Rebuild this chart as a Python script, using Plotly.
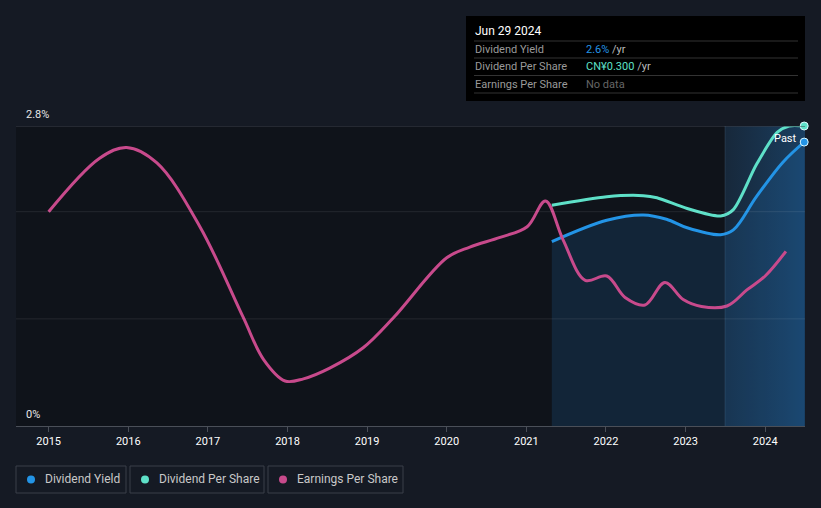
import plotly.graph_objects as go

# ---- data (y in axis units, % scale) ----
eps_x = [2015.0, 2015.64, 2015.98, 2016.36, 2016.9,
         2017.44, 2017.7, 2017.97, 2018.2, 2018.53, 2018.95, 2019.33, 2020.0, 2020.29,
         2020.67, 2021.01, 2021.24, 2021.46, 2021.74, 2022.01, 2022.24, 2022.49, 2022.74, 2022.97,
         2023.2, 2023.52, 2023.77, 2024.0, 2024.26]
eps_y = [2.00, 2.50, 2.60, 2.455, 1.86,
         1.02, 0.62, 0.42, 0.44, 0.54, 0.73, 1.01, 1.57, 1.67,
         1.76, 1.86, 2.10, 1.74, 1.36, 1.40, 1.20, 1.13, 1.34, 1.18,
         1.115, 1.12, 1.27, 1.40, 1.63]

dy_x = [2021.32, 2022.01, 2022.47, 2022.76, 2023.02, 2023.44, 2023.6, 2023.89, 2024.22, 2024.49]
dy_y = [1.72, 1.92, 1.97, 1.93, 1.85, 1.785, 1.83, 2.14, 2.46, 2.65]

dps_x = [2021.32, 2022.01, 2022.47, 2022.64, 2023.02, 2023.44, 2023.6, 2023.89, 2024.15, 2024.3, 2024.49]
dps_y = [2.06, 2.14, 2.15, 2.13, 2.03, 1.96, 2.02, 2.44, 2.74, 2.8, 2.8]

years = [2015, 2016, 2017, 2018, 2019, 2020, 2021, 2022, 2023, 2024]
year_labels = [str(y) for y in years]
y_max = 2.8
grid_vals = [1.0, 2.0]
past_start = 2023.495
x_min, x_max = 2014.59, 2024.5

BLUE = "#2394e6"
TEAL = "#5ee0c8"
PINK = "#c84a8c"

W, H = 821, 508
ML, MR, MT, MB = 16, 16, 126, 82
PW, PH = W - ML - MR, H - MT - MB


def px(x):
    return (x - ML) / PW


def py(y):
    return (H - MB - y) / PH


fig = go.Figure()

# past region gradient
fig.add_trace(go.Scatter(
    x=[past_start, x_max, x_max, past_start, past_start],
    y=[0, 0, y_max, y_max, 0],
    mode="lines", line=dict(width=0), fill="toself",
    fillgradient=dict(type="horizontal",
                      colorscale=[[0, "rgba(30,90,140,0.22)"], [1, "rgba(30,100,160,0.5)"]]),
    hoverinfo="skip", showlegend=False))

fig.add_trace(go.Scatter(
    x=dy_x, y=dy_y, mode="lines", line=dict(color=BLUE, width=3, shape="spline", smoothing=1.0),
    fill="tozeroy", fillcolor="rgba(30,110,180,0.20)", hoverinfo="skip", showlegend=False))

fig.add_trace(go.Scatter(
    x=dps_x, y=dps_y, mode="lines", line=dict(color=TEAL, width=3, shape="spline", smoothing=0.8),
    hoverinfo="skip", showlegend=False))

fig.add_trace(go.Scatter(
    x=eps_x, y=eps_y, mode="lines", line=dict(color=PINK, width=3, shape="spline", smoothing=1.0),
    hoverinfo="skip", showlegend=False))

fig.add_trace(go.Scatter(
    x=[dy_x[-1], dps_x[-1]], y=[dy_y[-1], dps_y[-1]], mode="markers",
    marker=dict(size=8, color=[BLUE, TEAL], line=dict(color="#e0fbff", width=1)),
    cliponaxis=False, hoverinfo="skip", showlegend=False))

shapes = []
shapes.append(dict(type="rect", xref="x", yref="y", x0=x_min, x1=past_start, y0=0, y1=y_max,
                   fillcolor="#0f131a", line=dict(width=0), layer="below"))
for g in grid_vals:
    shapes.append(dict(type="line", xref="paper", yref="y", x0=0, x1=1, y0=g, y1=g,
                       line=dict(color="rgba(255,255,255,0.09)", width=1), layer="above"))
shapes.append(dict(type="line", xref="paper", yref="y", x0=0, x1=1, y0=y_max, y1=y_max,
                   line=dict(color="#3c414b", width=1)))
shapes.append(dict(type="line", xref="x", yref="y", x0=past_start, x1=past_start, y0=0, y1=y_max,
                   line=dict(color="rgba(120,160,200,0.18)", width=1)))

annotations = [
    dict(x=px(24), xref="paper", y=y_max, yref="y", text="2.8%", showarrow=False,
         xanchor="left", yanchor="bottom", yshift=3, font=dict(color="#e8e8e8", size=11)),
    dict(x=px(24), xref="paper", y=0, yref="y", text="0%", showarrow=False,
         xanchor="left", yanchor="bottom", yshift=3, font=dict(color="#e8e8e8", size=11)),
    dict(x=2024.42, xref="x", y=2.68, yref="y", text="Past", showarrow=False,
         xanchor="right", yanchor="middle", font=dict(color="#ffffff", size=11)),
]

# tooltip box
shapes.append(dict(type="rect", xref="paper", yref="paper", x0=px(466), x1=px(805), y0=py(101), y1=py(16),
                   fillcolor="#000000", line=dict(width=0)))
for ly in [41, 58, 75.5, 93]:
    shapes.append(dict(type="line", xref="paper", yref="paper", x0=px(474), x1=px(798), y0=py(ly), y1=py(ly),
                       line=dict(color="#333333", width=1)))
annotations.append(dict(x=px(473), y=py(31), xref="paper", yref="paper", text="Jun 29 2024", showarrow=False,
                        xanchor="left", yanchor="middle", font=dict(color="#ffffff", size=12)))
rows = [("Dividend Yield", "<span style='color:%s'>2.6%%</span> /yr" % BLUE),
        ("Dividend Per Share", "<span style='color:%s'>CN¥0.300</span> /yr" % TEAL),
        ("Earnings Per Share", "<span style='color:#666'>No data</span>")]
for i, (lab, val) in enumerate(rows):
    yy = 49.5 + i * 17.5
    annotations.append(dict(x=px(473), y=py(yy), xref="paper", yref="paper", text=lab, showarrow=False,
                            xanchor="left", yanchor="middle", font=dict(color="#9a9a9a", size=11)))
    annotations.append(dict(x=px(584), y=py(yy), xref="paper", yref="paper", text=val, showarrow=False,
                            xanchor="left", yanchor="middle", font=dict(color="#bbbbbb", size=11)))

# legend boxes
legend_items = [("Dividend Yield", BLUE, 16, 126), ("Dividend Per Share", TEAL, 130, 264),
                ("Earnings Per Share", PINK, 268, 403)]
for name, col, x0, x1 in legend_items:
    shapes.append(dict(type="rect", xref="paper", yref="paper", x0=px(x0), x1=px(x1), y0=py(493), y1=py(466),
                       fillcolor="rgba(0,0,0,0)", line=dict(color="#3a3f48", width=1)))
    shapes.append(dict(type="circle", xref="paper", yref="paper", x0=px(x0 + 11), x1=px(x0 + 19),
                       y0=py(483.5), y1=py(475.5), fillcolor=col, line=dict(width=0)))
    annotations.append(dict(x=px(x0 + 27), y=py(479.5), xref="paper", yref="paper", text=name, showarrow=False,
                            xanchor="left", yanchor="middle", font=dict(color="#c8c8c8", size=12)))

fig.update_layout(
    width=W, height=H,
    margin=dict(l=ML, r=MR, t=MT, b=MB),
    paper_bgcolor="#151a24", plot_bgcolor="#151a24",
    font=dict(family="Roboto, sans-serif", color="#e8e8e8"),
    shapes=shapes, annotations=annotations,
    showlegend=False,
    xaxis=dict(range=[x_min, x_max], tickvals=years, ticktext=year_labels, showgrid=False, zeroline=False,
               showline=True, linecolor="#4a4f58", linewidth=1, ticks="outside", ticklen=5,
               tickcolor="#4a4f58", tickfont=dict(color="#ffffff", size=11), fixedrange=True),
    yaxis=dict(range=[0, y_max], showgrid=False, zeroline=False, showticklabels=False, fixedrange=True),
)

fig.write_html("out.html")
